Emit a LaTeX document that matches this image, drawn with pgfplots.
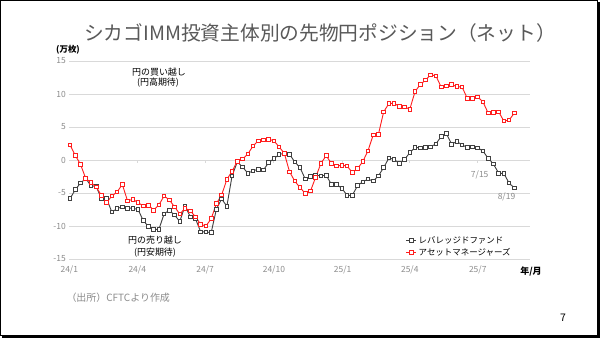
\documentclass[border=0pt]{standalone}
\usepackage{fontspec}
\setmainfont{Noto Sans CJK JP}
\usepackage{pgfplots}
\pgfplotsset{compat=1.18}
\definecolor{redline}{RGB}{255,30,30}
\definecolor{darkline}{RGB}{64,64,64}
\definecolor{gridc}{RGB}{217,217,217}
\definecolor{ticklab}{RGB}{140,140,140}
\definecolor{titlec}{RGB}{89,89,89}
\begin{document}
\begin{tikzpicture}[x=1bp,y=1bp]
\useasboundingbox (0,0) rectangle (600,338);
\fill[white] (0,0) rectangle (600,338);
\draw[black,line width=1bp] (0.5,2.5) rectangle (597,337.5);
\fill[black] (2,0) rectangle (600,2.5);
\fill[black] (597,0) rectangle (600,336);
\node[titlec, font=\fontsize{19.8}{22}\selectfont] at (320,305) {シカゴIMM投資主体別の先物円ポジション（ネット）};
\begin{axis}[at={(69.3bp,79bp)}, anchor=south west, scale only axis,
  width=460.7bp, height=198bp,
  xmin=0, xmax=617, ymin=-15, ymax=15,
  ytick={-15,-10,-5,0,5,10,15},
  xtick={0,91,182,274,366,456,547},
  xticklabels={24/1,24/4,24/7,24/10,25/1,25/4,25/7},
  axis line style={draw=none}, major tick length=0pt,
  ymajorgrids, grid style={gridc, line width=0.8bp},
  tick label style={ticklab, font=\fontsize{8.5}{10}\selectfont},
  xticklabel style={yshift=-3bp},
  /pgf/number format/assume math mode=true,
  clip=false,
  legend style={at={(0.73,0.125)}, anchor=north west, draw=none, fill=none,
    inner sep=0pt, row sep=-1bp, font=\fontsize{8.5}{9}\selectfont},
  legend cell align=left,
  legend image code/.code={\draw[mark repeat=2,mark phase=2] plot coordinates {(0bp,0bp)(5bp,0bp)(10bp,0bp)};},
]
\pgfplotsinvokeforeach{91,182,274,366,456,547}{\draw[gridc, line width=0.8bp] (axis cs:#1,0) -- ++(0pt,-3pt);}
\addplot[darkline, line width=0.9bp, mark=square*, mark size=1.8bp, mark options={fill=white, solid}] coordinates {
(1,-5.85)(8,-4.5)(15,-3.5)(22,-2.8)(29,-3.9)(36,-4.0)(43,-5.85)(50,-5.85)(57,-7.9)(64,-7.35)(71,-7.1)(78,-7.3)(85,-7.3)(92,-7.5)(99,-9.15)(106,-10.1)(113,-10.5)(120,-10.5)(127,-8.15)(134,-7.6)(141,-8.35)(148,-9.3)(155,-6.95)(162,-8.6)(169,-8.9)(176,-10.9)(183,-10.9)(190,-11.0)(197,-7.45)(204,-5.9)(211,-7.0)(218,-2.4)(225,-0.3)(232,-1.05)(239,-2.0)(246,-1.65)(253,-1.4)(260,-1.5)(267,-0.4)(274,0.2)(281,0.85)(288,1.0)(295,0.85)(302,-0.3)(309,-1.15)(316,-2.9)(323,-2.5)(330,-2.3)(337,-2.4)(344,-2.3)(351,-3.7)(358,-3.7)(365,-4.3)(372,-5.35)(379,-5.35)(386,-3.9)(393,-3.3)(400,-2.9)(407,-3.2)(414,-2.4)(421,-1.15)(428,0.3)(435,0.1)(442,-0.55)(449,0.1)(456,1.1)(463,1.9)(470,1.85)(477,1.9)(484,2.0)(491,2.45)(498,3.55)(505,4.0)(512,2.4)(519,2.8)(526,2.3)(533,1.9)(540,2.0)(547,1.85)(554,1.35)(561,0.25)(568,-0.6)(575,-2.0)(582,-2.05)(589,-3.5)(596,-4.25)
};
\addlegendentry{レバレッジドファンド}
\addplot[redline, line width=0.9bp, mark=square*, mark size=1.8bp, mark options={fill=white, solid}] coordinates {
(1,2.3)(8,0.7)(15,-0.65)(22,-2.8)(29,-3.4)(36,-4.1)(43,-5.35)(50,-6.45)(57,-5.45)(64,-4.85)(71,-3.7)(78,-6.2)(85,-5.95)(92,-6.45)(99,-6.95)(106,-6.85)(113,-7.6)(120,-6.8)(127,-5.45)(134,-6.05)(141,-7.1)(148,-8.2)(155,-7.3)(162,-7.7)(169,-8.6)(176,-9.75)(183,-10.0)(190,-8.9)(197,-6.6)(204,-5.3)(211,-2.95)(218,-1.7)(225,-0.2)(232,0.15)(239,0.9)(246,2.1)(253,2.9)(260,3.05)(267,3.15)(274,2.9)(281,2.0)(288,1.0)(295,-1.8)(302,-3.2)(309,-4.2)(316,-5.05)(323,-4.7)(330,-2.6)(337,-0.5)(344,0.65)(351,-0.5)(358,-0.9)(365,-0.8)(372,-0.9)(379,-1.9)(386,-1.3)(393,-0.25)(400,1.4)(407,3.8)(414,3.9)(421,7.3)(428,8.55)(435,8.6)(442,8.1)(449,8.05)(456,7.7)(463,10.35)(470,11.45)(477,12.1)(484,12.9)(491,12.75)(498,11.05)(505,11.2)(512,11.45)(519,11.1)(526,11.05)(533,9.35)(540,9.35)(547,9.55)(554,8.8)(561,7.1)(568,7.2)(575,7.3)(582,5.9)(589,6.05)(596,7.1)
};
\addlegendentry{アセットマネージャーズ}
\end{axis}
\node[font=\fontsize{9}{10}\selectfont] at (159,266) {円の買い越し};
\node[font=\fontsize{9}{10}\selectfont] at (158,255) {(円高期待)};
\node[font=\fontsize{9}{10}\selectfont] at (155,98) {円の売り越し};
\node[font=\fontsize{9}{10}\selectfont] at (155,85) {(円安期待)};
\node[ticklab, font=\fontsize{8.5}{10}\selectfont] at (479.7,163) {7/15};
\node[ticklab, font=\fontsize{8.5}{10}\selectfont] at (506.5,141.3) {8/19};
\node[font=\bfseries\fontsize{8.5}{10}\selectfont] at (68,288) {(万枚)};
\node[font=\bfseries\fontsize{9}{10}\selectfont] at (531,67) {年/月};
\node[ticklab, anchor=west, font=\fontsize{10}{12}\selectfont] at (63,40) {（出所）CFTCより作成};
\node[font=\fontsize{10.5}{12}\selectfont] at (563,20) {7};
\end{tikzpicture}
\end{document}
